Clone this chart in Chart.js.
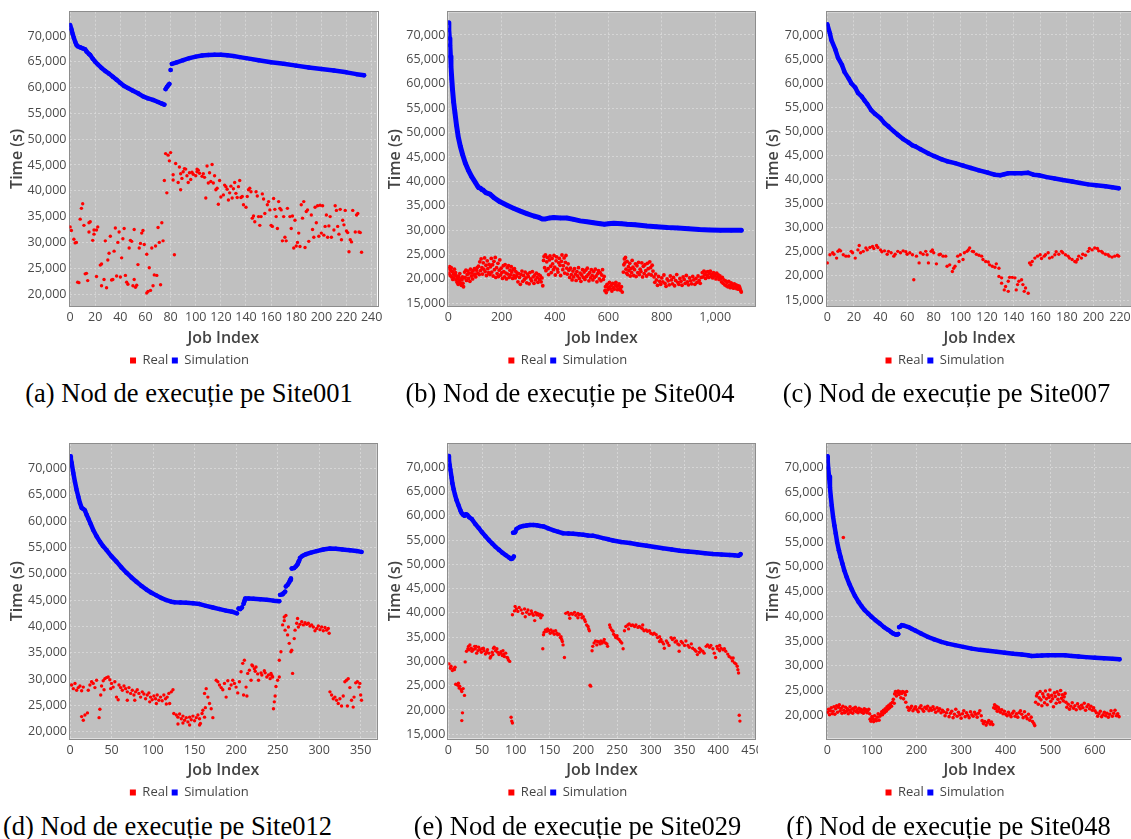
<!DOCTYPE html>
<html>
<head>
<meta charset="utf-8">
<script src="https://cdn.jsdelivr.net/npm/chart.js@4/dist/chart.umd.min.js"></script>
<style>
  html, body { margin: 0; padding: 0; background: #fff; }
  body { width: 1131px; height: 839px; position: relative; overflow: hidden; }
  .panel { position: absolute; overflow: hidden; }
  .panel canvas { position: absolute; left: 0; top: 0; }
  .cap {
    position: absolute; white-space: nowrap; line-height: 1;
    font-family: "Liberation Serif", "Times New Roman", serif; font-size: 26.5px; color: #000;
    transform: translate(-50%, -50%);
  }
</style>
</head>
<body>
<script>
// ---- series names, captions, tick labels ----
const seriesNames = ['Real', 'Simulation'];
const captions = [
  '(a) Nod de execuție pe Site001',
  '(b) Nod de execuție pe Site004',
  '(c) Nod de execuție pe Site007',
  '(d) Nod de execuție pe Site012',
  '(e) Nod de execuție pe Site029',
  '(f) Nod de execuție pe Site048'
];
const yTicksFrom20k = [20000, 25000, 30000, 35000, 40000, 45000, 50000, 55000, 60000, 65000, 70000];
const yTicksFrom15k = [15000, 20000, 25000, 30000, 35000, 40000, 45000, 50000, 55000, 60000, 65000, 70000];
const xTicksSite001 = [0, 20, 40, 60, 80, 100, 120, 140, 160, 180, 200, 220, 240];
const xTicksSite004 = [0, 200, 400, 600, 800, 1000];
const xTicksSite007 = [0, 20, 40, 60, 80, 100, 120, 140, 160, 180, 200, 220];
const xTicksSite012 = [0, 50, 100, 150, 200, 250, 300, 350];
const xTicksSite029 = [0, 50, 100, 150, 200, 250, 300, 350, 400, 450];
const xTicksSite048 = [0, 100, 200, 300, 400, 500, 600];

// ---- Site001: [job index, time in seconds] ----
const site001Sim = [[0,72100],[1,71300],[2,70400],[3,69600],[4,68900],[5,68300],[6,68000],[8,67800],[10,67600],[12,67400],[13,67000],[15,66500],[16,66300],[18,65600],[20,65000],[22,64500],[25,63800],[28,63200],[31,62700],[34,62100],[37,61500],[40,60900],[43,60300],[46,59900],[50,59400],[54,58900],[58,58300],[62,57900],[66,57600],[70,57200],[73,56900],[75,56700],[75.5,null],[76,59700],[77,60100],[78,60400],[79,60700],[79.5,null],[80,63400],[80.5,null],[81,64600],[85,64900],[90,65300],[95,65700],[100,66000],[105,66200],[110,66300],[115,66350],[120,66350],[125,66250],[130,66100],[135,65900],[140,65700],[150,65300],[160,64900],[170,64600],[180,64250],[190,63900],[200,63600],[210,63300],[220,62950],[228,62600],[234,62400]];
const site001Real = [[0,33000],[1,32300],[3,30600],[4,29900],[5,30000],[6,22300],[7,22200],[8,34500],[9,36600],[10,37500],[11,33300],[12,23900],[13,24000],[14,22600],[15,33800],[15,32000],[16,34000],[18,30400],[19,32400],[19,31600],[21,23400],[21,32400],[22,33000],[24,25600],[25,25800],[25,21600],[27,22800],[28,30300],[29,21200],[30,26600],[31,27900],[32,31200],[33,22700],[34,22800],[35,28300],[36,32800],[37,23500],[38,30000],[39,32000],[40,23300],[41,27000],[42,30700],[43,32700],[44,23600],[45,22300],[46,21900],[47,28900],[48,30400],[49,30200],[50,21600],[51,22800],[51,32500],[52,21300],[53,21700],[54,25700],[55,28900],[56,29800],[57,31800],[58,32300],[59,29600],[61,27700],[61,20200],[62,20500],[63,25100],[64,20700],[65,28900],[66,21600],[67,23700],[68,29300],[69,23600],[70,32900],[71,30000],[72,21800],[73,33800],[74,30300],
[75,42000],[76,47200],[77,39600],[78,46900],[79,45800],[80,47400],[82,43100],[82,42100],[83,27600],[84,45300],[86,41600],[87,44600],[88,40200],[88,43300],[89,42400],[90,43700],[91,44300],[92,44200],[93,42900],[94,41600],[95,43500],[96,42200],[97,43600],[98,43200],[100,42900],[101,43700],[101,44200],[102,44000],[103,43400],[105,42800],[106,43300],[107,42600],[108,38600],[109,44800],[110,41500],[111,43500],[112,41800],[113,45100],[114,41500],[115,42900],[116,40200],[117,40500],[118,37400],[119,42000],[120,38800],[122,39200],[123,41100],[124,40800],[125,40300],[126,38200],[127,39600],[128,40900],[129,38600],[130,40400],[131,41600],[132,39500],[133,38700],[134,40800],[135,42000],[136,38700],[137,38900],[138,37300],[140,36800],[141,38900],[142,40200],[143,40500],[144,39800],[145,34700],[146,35100],[147,34000],[148,39800],[149,39000],[150,35000],[151,33300],[152,35000],[153,39400],[154,38400],[155,35600],[157,37300],[158,37900],[159,36300],[160,33300],[161,33100],[162,38500],[163,36400],[164,35000],[165,32700],[166,37900],[167,36600],[168,36300],[169,30300],[170,35000],[171,31000],[172,30300],[173,36600],[175,35000],[176,32700],[177,35100],[178,28900],[179,34300],[180,29300],[181,30000],[182,31800],[183,29200],[184,37300],[185,34700],[186,37900],[187,29000],[188,36000],[189,36300],[190,30200],[192,35300],[193,32500],[194,31000],[195,36800],[196,33800],[197,37100],[198,31200],[199,37200],[200,31800],[201,37100],[202,31400],[203,33100],[204,35300],[205,31000],[206,33200],[207,35000],[208,31000],[210,32400],[211,37100],[212,36200],[213,33100],[214,31600],[215,36400],[216,30500],[217,34300],[218,33400],[219,36200],[220,32200],[221,31900],[222,28200],[223,30500],[224,30100],[225,36200],[227,32000],[228,35300],[229,35600],[230,32000],[231,31900],[232,28100]];

// ---- Site004 ----
const site004Sim = [[0,72500],[2,71000],[4,69300],[6,67900],[8,65600],[10,63500],[13,61000],[16,58700],[20,56200],[25,54000],[31,51400],[37,49200],[45,47200],[54,45400],[64,43700],[75,42300],[87,41000],[100,39900],[110,39000],[114,38700],[120,38600],[126,38300],[131,38200],[140,37700],[156,37400],[170,36700],[194,35800],[220,35100],[244,34500],[270,33900],[294,33400],[320,32900],[340,32600],[352,32300],[365,32300],[380,32500],[395,32600],[420,32500],[444,32500],[470,32200],[494,31900],[520,31700],[544,31500],[570,31300],[585,31200],[600,31300],[620,31400],[650,31300],[670,31200],[700,31100],[744,30850],[780,30700],[820,30550],[860,30450],[900,30300],[940,30150],[980,30050],[1020,29980],[1060,29960],[1098,29960]];
const site004Real = [[1,22100],[3,21200],[5,22500],[7,20700],[9,21800],[11,22300],[13,20400],[15,21500],[17,19900],[19,21000],[21,20200],[23,22000],[25,20800],[27,21300],[29,19800],
[31,20600],[33,19300],[35,20100],[37,18900],[39,20500],[41,19600],[43,21100],[45,19200],[47,20000],[49,18700],[51,19800],[53,20400],[55,19100],[57,18400],[59,20200],
[61,21400],[63,20300],[66,21800],[68,19700],[71,20900],[73,21600],[76,20100],[78,21200],[81,19500],[83,22000],[86,20600],[88,21300],[91,20000],[93,21700],[96,20800],[98,22100],[101,21000],[103,20400],[106,21800],[108,22300],
[111,21200],[113,22600],[116,20900],[118,23500],[121,21700],[123,24100],[126,22300],[128,21000],[131,23300],[133,22000],[136,24300],[138,21500],[141,22800],[143,20700],[146,23700],[148,22100],[151,21300],[153,23000],[156,20900],[158,22500],
[161,24200],[163,21400],[166,22900],[168,20600],[171,23600],[173,21900],[176,24400],[178,20300],[181,22300],[183,21100],[186,23200],[188,20500],[191,21800],[193,23900],[196,20800],[198,22200],[201,21300],[203,20100],[206,22700],[208,21500],
[211,20400],[213,22900],[216,21200],[218,20000],[221,22300],[223,21000],[226,22700],[228,20300],[231,21800],[233,20800],[236,22500],[238,21400],[241,20100],[243,21900],[246,20700],[248,22100],[251,20200],[253,21500],[256,20600],[258,21200],
[261,19400],[264,21100],[267,20300],[270,18900],[273,20900],[276,21600],[279,19500],[282,20700],[285,19900],[288,21400],[291,20200],[294,19200],[297,21000],[300,20500],[303,19000],[306,21300],[309,20000],[312,19600],[315,21500],[318,20400],[321,19100],[324,20800],[327,19800],[330,21200],[333,20300],[336,19300],[339,20900],[342,19900],[345,20600],[348,19400],[351,20200],[354,18600],
[357,23800],[359,24600],[361,22300],[364,24900],[366,21700],[369,23500],[371,24400],[374,22100],[376,20900],[379,23900],[381,24700],[384,22600],[386,21300],[389,24200],[391,23100],[394,21900],[396,24800],[399,22400],[401,20800],[404,23700],[406,24500],[409,22000],[411,21400],[414,23300],[416,24200],[419,22800],[421,20700],[424,23600],[426,24900],[429,21900],[431,22700],[434,24300],[436,21200],[439,23400],[441,24800],[444,22200],[446,21000],[449,23100],
[452,21800],[455,20300],[458,22200],[461,20900],[464,19800],[467,21600],[470,20400],[473,22100],[476,21000],[479,19700],[482,21500],[485,20600],[488,22300],[491,20100],[494,21200],[497,19500],[500,20800],[503,21900],[506,20300],[509,21400],[512,19900],[515,21800],[518,20500],[521,22200],[524,20900],[527,19600],[530,21300],[533,20200],[536,21900],[539,20700],[542,19800],[545,21500],[548,20300],[551,22000],[554,20600],[557,19400],[560,21100],[563,21700],[566,20000],[569,21300],[572,19600],[575,20800],[578,21900],[581,19900],[584,20500],
[587,17600],[589,18400],[592,17200],[595,18900],[598,17800],[601,18300],[604,19300],[607,18000],[610,18700],[613,17500],[616,19100],[619,18200],[622,17900],[625,18800],[628,19300],[631,18500],[634,17800],[637,18600],[640,19000],[643,18100],[646,17700],[649,18400],[652,17300],
[656,21400],[658,22900],[660,24100],[662,23300],[664,24400],[666,22000],[668,21200],[670,23600],[672,20900],[675,22500],[677,21700],[680,23200],[682,20600],[685,22100],[687,21300],[689,23800],
[692,22400],[695,20700],[698,21900],[701,23100],[704,20500],[707,22700],[710,21300],[713,23400],[716,20900],[719,22000],[722,21500],[725,23300],[728,20400],[731,22600],[734,21100],[737,22900],[740,21700],[743,20600],[746,23200],[749,22100],[752,21000],[755,23500],[758,22300],[761,20800],[764,22800],[767,21600],
[771,20400],[774,19300],[777,21000],[780,19800],[784,18700],[788,20500],[792,19500],[796,18900],[800,20200],[804,19400],[808,20800],[812,19100],[816,18500],[820,20000],[824,19600],[828,18800],[832,20600],[836,19800],[840,19000],[844,20300],[848,18600],[852,19700],[856,20900],[860,19300],[864,18900],[868,20100],[872,19500],[876,18700],[880,20400],[884,19900],[888,19100],[892,20700],[896,19400],[900,18800],[904,20200],[908,19600],[912,19000],[916,20500],[920,19800],[924,18900],[928,20100],[932,19300],[936,20600],[940,19700],[944,19100],[948,20300],
[952,21300],[955,20400],[958,21600],[961,20900],[964,20100],[967,21400],[970,20700],[973,21500],[976,20300],[979,21100],[982,21600],[985,20500],[988,21000],[991,20200],[994,21300],[997,20600],[1000,20900],[1003,20000],[1006,21200],[1009,20400],[1012,20800],[1015,19900],[1018,20600],
[1021,20100],[1024,19400],[1027,20300],[1030,19100],[1033,19800],[1036,18800],[1039,19600],[1042,18600],[1045,19300],[1048,18400],[1051,19500],[1054,18700],[1057,18200],[1060,19200],[1063,18500],[1066,18900],[1069,18100],[1072,19000],[1075,18300],[1078,18800],[1081,18000],[1084,18600],[1087,17900],[1090,18500],[1093,18100],[1096,17600],[1098,17300]];

// ---- Site007 ----
const site007Sim = [[0,72200],[2,70300],[3,69000],[6,67000],[8,65300],[11,63800],[13,62300],[16,61000],[18,60000],[21,59100],[23,58000],[26,57200],[28,56400],[30,55700],[33,54400],[36,53600],[40,52700],[43,51700],[46,51000],[50,50000],[53,49300],[57,48400],[61,47700],[64,47100],[66,46900],[70,46300],[76,45400],[80,44900],[86,44200],[90,43800],[96,43400],[102,42900],[108,42400],[114,41900],[121,41400],[126,41000],[130,40900],[133,41100],[136,41300],[141,41300],[146,41300],[151,41400],[155,41000],[159,40900],[165,40500],[171,40200],[177,39900],[184,39600],[190,39300],[196,39000],[202,38800],[209,38600],[214,38400],[219,38200]];
const site007Real = [[0,22700],[2,24400],[4,24800],[5,24500],[7,23700],[8,25100],[9,25400],[10,25200],[12,24400],[14,24100],[16,24100],[18,25100],[19,24800],[21,23700],[23,25400],[24,26300],[25,24800],[27,25100],[29,25800],[30,25400],[32,25900],[34,26100],[35,25700],[37,26300],[38,25900],[40,25400],[41,25000],[43,25200],[45,24500],[46,25100],[48,24800],[50,24100],[51,24500],[53,25100],[55,24800],[57,25200],[59,25000],[60,24500],[62,24800],[64,24400],[65,19200],[67,24100],[69,22700],[70,24800],[72,24500],[74,25100],[75,24400],[76,22700],[78,25100],[79,25400],[80,24800],[82,22500],[84,24400],[85,24500],[87,24100],[89,24100],[90,22000],[92,22300],[94,20900],[95,21600],[96,22000],[98,24100],[99,23000],[100,24400],[102,23400],[103,24800],[105,25100],[106,25400],[107,25800],[109,25100],[110,25000],[112,24500],[114,24300],[116,24100],[117,23400],[119,23000],[121,22900],[122,22300],[124,22000],[126,21800],[127,22500],[129,21600],
[129,19900],[131,19600],[131,18500],[133,17100],[134,17800],[136,16800],[136,18900],[137,19700],[139,19700],[141,19600],[142,17100],[143,18200],[144,18900],[146,19200],[147,18200],[148,16800],[149,17500],[151,16400],
[152,22700],[153,22300],[154,23000],[156,23700],[158,24100],[160,24400],[161,23600],[163,24100],[164,24400],[166,24800],[167,23700],[169,23900],[171,24400],[172,25000],[174,24500],[176,25100],[177,24800],[179,24400],[181,24100],[182,23700],[184,23400],[186,23000],[187,22900],[188,23400],[189,24100],[191,23700],[192,24500],[194,24300],[196,25100],[197,25700],[199,25400],[201,25800],[203,25700],[204,25200],[206,25100],[207,24800],[209,24500],[211,24400],[212,24100],[214,23900],[216,24100],[218,24300],[219,24100]];

// ---- Site012 ----
const site012Sim = [[0,72300],[1,71800],[2,71000],[4,69100],[6,67400],[8,65900],[10,64600],[12,63400],[14,62500],[16,62300],[18,62000],[20,61200],[22,60500],[25,59400],[28,58300],[32,57100],[36,56100],[40,55200],[44,54500],[50,53300],[56,52300],[62,51200],[68,50200],[74,49300],[80,48500],[86,47700],[92,47000],[98,46400],[104,45900],[110,45400],[116,45000],[122,44700],[126,44600],[133,44550],[140,44500],[148,44400],[156,44250],[164,43900],[172,43600],[180,43300],[188,43000],[195,42800],[201,42500],[201.5,null],[203,43400],[205,43300],[207,43600],[207.5,null],[209,44300],[210,44800],[211,45300],[215,45300],[221,45250],[229,45150],[237,45050],[245,44900],[252,44800],[252.5,null],[253,46000],[256,46100],[257,46300],[259,46600],[259.5,null],[260,47600],[262,47900],[264,48400],[265,48800],[266,49100],[266.5,null],[267,51000],[270,51100],[272,51400],[274,51800],[275,52200],[276,52500],[276.5,null],[277,53000],[280,53400],[284,53700],[290,54000],[297,54300],[305,54600],[313,54800],[320,54750],[328,54600],[337,54450],[345,54300],[351,54150]];
const site012Real = [[2,28900],[4,28200],[6,29200],[8,27900],[10,28400],[12,28700],[14,27800],[16,28500],[14,22900],[16,22200],[18,23200],[21,23600],[22,27900],[24,28900],[26,29500],[28,29200],[30,28400],[32,29800],[35,22700],[36,24300],[37,27000],[38,28700],[40,29700],[41,28000],[42,30100],[44,30300],[46,30400],[48,29900],[49,28200],[50,29200],[52,28500],[54,29500],[56,26600],[58,26100],
[59,28900],[61,28400],[63,27900],[65,28700],[67,28200],[69,27600],[69,26000],[71,28400],[73,27300],[75,27900],[77,27000],[78,26000],[79,27600],[81,28000],[83,27300],[85,26600],[87,27600],[89,27200],[91,26300],[93,27000],[95,27400],[96,25700],[97,26600],[99,26100],[101,26800],[103,26300],[104,25400],[105,27000],[107,26000],[109,26600],[111,25900],[113,27000],[115,26300],[116,25300],[117,26600],[119,27300],[120,25400],[122,27600],[124,28000],
[125,23500],[128,23200],[130,22800],[130,21500],[132,23400],[134,22500],[136,23000],[136,21700],[138,22200],[140,22700],[142,21900],[144,22800],[144,21300],[146,22300],[148,23000],[150,22100],[152,22700],[154,23200],[156,22500],[156,21300],[157,21600],[159,23500],[160,24100],[162,22800],[163,24600],
[162,27300],[164,28200],[166,26600],[168,25400],[170,24400],[172,22700],
[176,29800],[178,29500],[180,28900],[182,28400],[184,28000],[186,29200],[188,26600],[190,29700],[192,28200],[194,28900],[196,29800],[198,29200],[200,28500],[202,27400],[204,29500],[206,31400],[208,33000],[210,33600],[209,27000],[213,26800],[212,28500],[214,31100],[216,31700],[218,29800],[219,32700],[220,32500],[222,32000],[224,32300],[223,31500],[226,31000],[227,29800],[230,31200],[231,30800],[234,31600],[235,31200],[237,30400],[239,30800],[241,30100],[242,31100],[243,30700],[244,30400],
[245,24400],[246,25700],[247,26800],[248,28600],[250,29800],[252,30400],[252,33600],[254,35200],[256,40300],[258,41800],[258,41100],[260,42100],[259,39300],[262,38400],[263,39900],[264,36800],[266,35200],[267,35500],[268,31100],[270,37700],[271,39300],[273,40600],[274,41500],[275,39900],[277,40400],[279,40900],[281,40300],[283,40700],[285,40400],[287,40600],[289,40100],[291,40300],[293,39900],[295,39200],[297,39600],[299,40100],[301,39400],[303,39900],[305,39200],[307,39800],[309,39300],[311,39600],[312,38700],
[313,27600],[315,27000],[317,26300],[319,26600],[321,26000],[323,25400],[325,26300],[327,24900],[329,26800],[331,29500],[333,29800],[334,24900],[335,30100],[337,28400],[339,26000],[341,24700],[342,26600],[344,29300],[346,29500],[348,28500],[349,29200],[350,27000],[351,26000]];

// ---- Site029 ----
const site029Sim = [[0,72300],[1,71500],[2,70400],[3,69500],[5,67800],[6,66700],[8,65400],[10,64300],[12,63300],[15,62200],[18,61100],[20,60500],[22,60200],[24,60000],[26,60300],[28,60200],[31,59700],[35,59300],[40,58300],[45,57500],[50,56600],[55,55800],[60,55000],[65,54300],[70,53600],[75,53000],[80,52400],[85,51900],[90,51400],[93,51100],[95,51200],[97,51600],[97.5,null],[96,56500],[99,56600],[101,57300],[106,57700],[111,57900],[116,58000],[121,58100],[126,58100],[131,58050],[136,57900],[141,57800],[148,57400],[156,57000],[163,56700],[170,56400],[178,56350],[185,56300],[193,56200],[200,56100],[207,55950],[214,55900],[222,55650],[229,55400],[237,55150],[244,54900],[256,54600],[269,54380],[281,54100],[294,53840],[306,53550],[318,53290],[331,53050],[343,52810],[355,52650],[368,52470],[380,52300],[392,52120],[405,52000],[417,51920],[424,51850],[430,51780],[432,51950],[433,52100]];
const site029Real = [[1,29500],[3,28600],[4,29000],[6,28100],[8,28500],[9,28300],[10,28800],
[11,25300],[14,25100],[15,25500],[16,24500],[17,24900],[19,24200],[20,23800],[22,24400],[24,23000],[21,19400],[20,17800],
[25,29900],[27,32100],[29,32600],[30,33100],[31,32400],[32,33400],[34,32700],[35,32100],[37,32400],[39,33100],[40,32600],[41,33100],[42,31700],[44,32200],[45,32900],[47,32400],[49,31900],[50,32600],[52,32700],[53,32200],[55,31500],[57,31900],[58,32400],[60,31700],[62,30700],[63,31000],[65,31900],[66,31400],[67,32700],[68,32900],[70,32200],[72,32600],[73,31900],[75,31400],[77,31700],[78,32000],[80,31200],[81,32200],[82,31500],[83,31000],[85,31700],[87,30800],[88,30700],[89,30300],[91,30000],
[93,18500],[94,17700],[95,17300],
[95,39600],[98,40400],[99,41300],[101,40800],[103,40300],[105,41100],[108,40600],[110,39900],[113,40800],[114,39200],[116,40100],[118,40600],[120,39700],[123,40400],[124,39900],[126,39500],[128,38400],[129,40100],[131,39600],[132,39900],[134,39500],[136,39700],[137,39000],[139,39500],[140,32600],
[141,35500],[142,36000],[144,36500],[146,36200],[147,36700],[149,36300],[151,35800],[152,36500],[154,36000],[156,36200],[157,35600],[159,36300],[161,35800],[162,35500],[164,35600],[166,34900],[167,35100],[168,34500],[169,34100],[170,33400],[172,30800],
[174,39900],[177,40100],[179,39600],[180,38900],[182,39900],[184,39700],[187,40100],[189,39500],[192,39900],[192,39000],[194,39600],[197,39700],[198,39000],[200,39200],[202,38600],[203,38200],[205,37500],[207,37200],[208,36700],[209,36300],
[210,25100],[211,24900],
[213,32200],[214,33100],[216,33800],[218,34200],[220,33400],[221,34100],[223,34000],[225,33600],[226,34200],[228,33800],[230,34100],[231,34500],[233,33800],[235,33600],[236,33100],
[239,37500],[240,37000],[242,36500],[244,36200],[245,35600],[247,35300],[248,34900],[250,35300],[251,34700],[253,34500],[255,34100],[257,33800],[259,32600],
[261,36300],[263,37200],[266,37500],[267,36700],[268,37700],[271,37400],[273,37500],[276,37200],[278,37500],[281,37000],[283,37200],[286,36900],[288,36700],[288,37500],[290,36300],[293,36500],[295,36200],[298,36300],[300,35800],[303,35600],[305,35800],[308,35500],[310,34900],[313,35100],[313,34100],[315,34500],[317,34000],[319,33600],[320,32700],[323,34200],[325,33800],[327,33300],[330,34900],[332,34500],[335,34800],[336,34000],[338,34200],[340,33600],[342,32100],[342,33400],[345,34100],[347,33800],[350,33300],[352,34200],[355,33300],[357,32900],[360,33600],[362,32700],[365,32400],[367,32100],[369,31400],[372,31900],[372,32700],[374,32400],[377,32100],[379,31700],[382,33100],[384,33400],[387,32900],[389,33300],[392,32600],[394,31700],[396,30800],[398,33100],[399,32600],[402,33300],[402,32200],[404,32700],[407,32400],[409,32600],[411,32100],[414,31500],[416,31000],[419,30700],[421,30100],[422,30700],[424,29700],[426,29500],[428,29000],[429,28300],[430,27600],
[431,18900],[432,17700]];

// ---- Site048 ----
const site048Sim = [[0,72300],[1,71300],[2,70000],[4,68200],[6,66000],[8,64100],[10,62300],[13,60100],[16,58300],[19,56700],[22,55000],[26,53300],[30,51900],[34,50600],[38,49300],[43,48000],[49,46600],[55,45400],[62,44100],[70,42900],[77,42000],[84,41200],[92,40500],[99,39900],[108,39200],[118,38500],[127,37800],[137,37200],[143,36800],[148,36500],[153,36300],[157,36300],[159,36400],[159.5,null],[161,37800],[163,37850],[167,38200],[172,38100],[182,37800],[190,37400],[197,37100],[210,36500],[226,35800],[240,35300],[256,34800],[270,34450],[286,34150],[305,33800],[324,33450],[342,33200],[361,33000],[380,32800],[398,32600],[417,32400],[436,32250],[450,32100],[458,31950],[470,32000],[481,32060],[495,32100],[511,32130],[533,32120],[548,31980],[563,31860],[580,31730],[600,31590],[620,31480],[640,31380],[655,31300]];
const site048Real = [[1,20600],[3,21200],[5,20100],[7,20900],[9,21500],[11,20300],[13,20800],[15,21700],[17,20200],[19,21300],[21,21900],[23,20600],[25,21600],[27,22100],[29,20900],[31,21400],[33,20400],[35,21800],[36,55900],[37,21000],[39,20500],[41,21600],[43,20800],[45,21300],[47,20300],[49,21000],[51,21700],[53,20600],[55,21200],[57,20400],[59,21400],[61,20900],[63,21600],[65,20700],[67,21100],[69,20500],[71,21400],[73,20800],[75,21200],[77,20600],[79,21000],[81,20400],[83,21300],[85,20800],[87,21100],[89,20500],[91,20900],[93,21200],[95,20300],
[96,19200],[98,18800],[100,19700],[102,19300],[104,18700],[106,19900],[108,19100],[110,18900],[112,19600],[114,20300],[116,19000],[118,19800],[120,20200],
[122,20700],[124,20100],[126,21000],[128,20500],[130,21300],[132,20800],[134,21700],[136,21200],[138,22000],[140,21500],[142,22300],[144,21800],[146,22600],[148,23200],[150,22400],
[151,24300],[153,24800],[155,23900],[157,24600],[159,24900],[161,24200],[163,24700],[165,23500],[167,24400],[169,24800],[171,23300],[173,24600],[175,24100],[176,22600],[178,24800],
[180,21600],[183,21000],[186,21400],[189,21800],[192,20900],[195,21300],[198,21700],[201,21100],[204,20700],[207,21500],[210,21900],[213,21200],[216,20800],[219,21600],[222,21300],[225,21800],[228,20900],[231,21400],[234,21000],[237,21700],[240,21200],[243,20600],[246,21500],[249,20900],[252,21300],[255,20500],[258,21000],
[261,20700],[264,19900],[267,20500],[270,21100],[273,19700],[276,20400],[279,20800],[282,19500],[285,20200],[288,21200],[291,19800],[294,20600],[297,20100],[300,19400],[303,20300],[306,20900],[309,19700],[312,20500],[315,20000],[318,19500],[321,20700],[324,20100],[327,19800],[330,20600],[333,20200],[336,19600],[339,20400],[342,20900],[345,19900],
[347,18900],[350,18300],[353,18700],[356,18000],[359,18500],[362,18900],[365,18200],[368,18600],[371,18100],
[373,21500],[375,22100],[377,21300],[379,21800],[381,20800],[383,21600],[385,21200],[388,20600],[391,21100],[394,20300],[397,20800],[400,20200],[403,19900],[406,20600],[409,20100],[412,19700],[415,20400],[418,20800],[421,19800],[424,20300],[427,19600],[430,20500],
[433,20900],[436,20200],[439,19500],[442,20700],[445,19800],[448,19300],[451,20200],[454,19000],[457,19600],[460,18700],[463,18300],[465,17900],
[467,22600],[469,23900],[471,24400],[473,22200],[475,23500],[477,24800],[479,23100],[481,21900],[483,24300],[485,23700],[487,22500],[489,24900],[491,23300],[493,22100],[495,24100],[497,23600],[499,25100],[501,22800],[503,24000],[505,23300],[507,21700],[509,24500],[511,23800],[513,22400],[515,24700],[517,23200],[519,24200],[521,22600],[523,25000],[525,23400],[527,24100],[529,22900],[531,23700],[533,24400],[535,22600],
[537,21600],[540,22200],[543,21200],[546,21800],[549,22500],[552,21400],[555,21900],[558,21100],[561,22300],[564,21700],[567,21300],[570,22000],[573,21500],[576,22400],[579,21000],[582,21700],[585,22100],[588,21300],[591,21800],[594,21000],[597,21500],[600,20900],
[603,20500],[606,19800],[609,20300],[612,20800],[615,19700],[618,20100],[621,20600],[624,19900],[627,20400],[630,19600],[633,20200],[636,20900],[639,19800],[642,20400],[645,21000],[648,19900],[651,20300],[654,19700]];

// ---- panel layout (positions in page pixels) ----
const panels = [
  { left: 2,   top: 0,   width: 385, clipW: 385, yW: 67.5, padR: 10,   padT: 11.7, xH: 44.5, xMin: -0.5,  xMax: 244.3, yMin: 17675, yMax: 74700, xTicks: xTicksSite001, yTicks: yTicksFrom20k, real: site001Real, sim: site001Sim, simW: 4.5, dotR: 1.7, capX: 189,   capY: 393 },
  { left: 380, top: 0,   width: 381, clipW: 381, yW: 68.3, padR: 5.3,  padT: 12.3, xH: 44.5, xMin: 0,     xMax: 1152,  yMin: 14450, yMax: 74650, xTicks: xTicksSite004, yTicks: yTicksFrom15k, real: site004Real, sim: site004Sim, simW: 5,   dotR: 1.9, capX: 570,   capY: 393 },
  { left: 758, top: 0,   width: 381, clipW: 381, yW: 68.7, padR: 7,    padT: 12.3, xH: 44.5, xMin: -0.45, xMax: 229,   yMin: 13755, yMax: 74711, xTicks: xTicksSite007, yTicks: yTicksFrom15k, real: site007Real, sim: site007Sim, simW: 4.5, dotR: 1.7, capX: 946.5, capY: 393 },
  { left: 2,   top: 432, width: 379, clipW: 379, yW: 68,   padR: 4.3,  padT: 12,   xH: 44,   xMin: 0,     xMax: 369.3, yMin: 18747, yMax: 74614, xTicks: xTicksSite012, yTicks: yTicksFrom20k, real: site012Real, sim: site012Sim, simW: 4.5, dotR: 1.7, capX: 167.5, capY: 826 },
  { left: 380, top: 432, width: 387, clipW: 378, yW: 68.3, padR: 11.3, padT: 12,   xH: 44,   xMin: 0,     xMax: 455.4, yMin: 14116, yMax: 74787, xTicks: xTicksSite029, yTicks: yTicksFrom15k, real: site029Real, sim: site029Sim, simW: 4.5, dotR: 1.7, capX: 577.5, capY: 826 },
  { left: 758, top: 432, width: 381, clipW: 381, yW: 68.7, padR: 7,    padT: 12,   xH: 44,   xMin: -1.3,  xMax: 683,   yMin: 15290, yMax: 74790, xTicks: xTicksSite048, yTicks: yTicksFrom20k, real: site048Real, sim: site048Sim, simW: 4.5, dotR: 1.8, capX: 948.5, capY: 826 }
];

const CANVAS_H = 377;
const seriesColors = ['#ff0000', '#0000ff'];
const tickFont = { family: 'Open Sans', size: 12.5 };
const titleFont = { family: 'Open Sans', size: 16, weight: '600' };

// grey plot background and a thin frame around it
const plotFrame = {
  id: 'plotFrame',
  beforeDraw(chart) {
    const { ctx, chartArea: a } = chart;
    ctx.save();
    ctx.fillStyle = '#c0c0c0';
    ctx.fillRect(a.left, a.top, a.right - a.left, a.bottom - a.top);
    ctx.restore();
  },
  beforeDatasetsDraw(chart) {
    const { ctx, chartArea: a } = chart;
    ctx.save();
    ctx.strokeStyle = '#8d8d8d';
    ctx.lineWidth = 1;
    ctx.strokeRect(Math.round(a.left) - 0.5, Math.round(a.top) - 0.5,
                   Math.round(a.right - a.left) + 1, Math.round(a.bottom - a.top) + 1);
    ctx.restore();
  }
};

const fmt = v => Number(v).toLocaleString('en-US');

panels.forEach((p, i) => {
  const wrap = document.createElement('div');
  wrap.className = 'panel';
  wrap.style.left = p.left + 'px';
  wrap.style.top = p.top + 'px';
  wrap.style.width = p.clipW + 'px';
  wrap.style.height = CANVAS_H + 'px';
  const cv = document.createElement('canvas');
  cv.width = p.width; cv.height = CANVAS_H;
  cv.style.width = p.width + 'px'; cv.style.height = CANVAS_H + 'px';
  wrap.appendChild(cv);
  document.body.appendChild(wrap);

  const cap = document.createElement('div');
  cap.className = 'cap';
  cap.textContent = captions[i];
  cap.style.left = p.capX + 'px';
  cap.style.top = p.capY + 'px';
  document.body.appendChild(cap);

  new Chart(cv.getContext('2d'), {
    type: 'scatter',
    data: {
      datasets: [
        { label: seriesNames[0], data: p.real, order: 0,
          pointRadius: p.dotR, pointHoverRadius: p.dotR, pointBorderWidth: 0,
          pointBackgroundColor: seriesColors[0], backgroundColor: seriesColors[0], borderColor: seriesColors[0] },
        { label: seriesNames[1], data: p.sim, order: 1, showLine: true, spanGaps: false, tension: 0,
          borderColor: seriesColors[1], backgroundColor: seriesColors[1], borderWidth: p.simW,
          borderJoinStyle: 'round', borderCapStyle: 'round',
          pointRadius: 2.2, pointHoverRadius: 2.2, pointBorderWidth: 0, pointBackgroundColor: seriesColors[1] }
      ]
    },
    options: {
      responsive: false,
      animation: false,
      devicePixelRatio: 1,
      events: [],
      layout: { padding: { left: 0, right: p.padR, top: p.padT, bottom: 0 } },
      plugins: {
        tooltip: { enabled: false },
        legend: {
          position: 'bottom',
          labels: {
            font: { family: 'Open Sans', size: 13 },
            color: '#444',
            boxWidth: 6, boxHeight: 6, padding: 3.5,
            generateLabels: chart => chart.data.datasets.map((ds, k) => ({
              text: ds.label, fillStyle: seriesColors[k], strokeStyle: seriesColors[k],
              lineWidth: 0, hidden: false, datasetIndex: k, fontColor: '#444'
            }))
          }
        }
      },
      scales: {
        x: {
          type: 'linear', position: 'bottom', min: p.xMin, max: p.xMax,
          afterBuildTicks: s => { s.ticks = p.xTicks.map(v => ({ value: v })); },
          afterFit: s => { s.height = p.xH; },
          ticks: { font: tickFont, color: '#4a4a4a', padding: 4, maxRotation: 0, autoSkip: false, callback: fmt },
          grid: { color: 'rgba(222,222,222,0.7)', lineWidth: 1, drawTicks: false },
          border: { display: false, dash: [2, 2] },
          title: { display: true, text: 'Job Index', font: titleFont, color: '#444', padding: { top: 0, bottom: 2.7 } }
        },
        y: {
          type: 'linear', position: 'left', min: p.yMin, max: p.yMax,
          afterBuildTicks: s => { s.ticks = p.yTicks.map(v => ({ value: v })); },
          afterFit: s => { s.width = p.yW; },
          ticks: { font: tickFont, color: '#4a4a4a', padding: 3, autoSkip: false, callback: fmt },
          grid: { color: 'rgba(222,222,222,0.7)', lineWidth: 1, drawTicks: false },
          border: { display: false, dash: [2, 2] },
          title: { display: true, text: 'Time (s)', font: titleFont, color: '#444', padding: { top: 6, bottom: 0 } }
        }
      }
    },
    plugins: [plotFrame]
  });
});
</script>
</body>
</html>
